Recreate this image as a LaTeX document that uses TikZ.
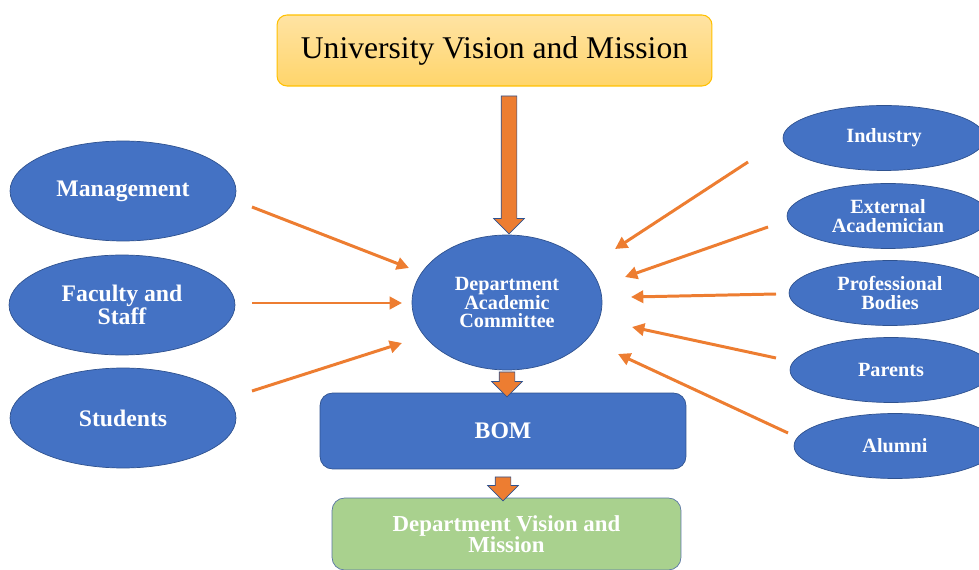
\documentclass[tikz,border=0pt]{standalone}
\usepackage{fontspec}
\setmainfont{Liberation Serif}
\usetikzlibrary{shapes.geometric,shapes.arrows,arrows.meta}

\definecolor{boxblue}{HTML}{4472C4}
\definecolor{edgeblue}{HTML}{2F528F}
\definecolor{linkorange}{HTML}{ED7D31}
\definecolor{goldtop}{HTML}{FFE3A3}
\definecolor{goldbottom}{HTML}{FFD56B}
\definecolor{goldedge}{HTML}{FFC000}
\definecolor{leafgreen}{HTML}{A9D18E}

\tikzset{
  stake/.style={ellipse, fill=boxblue, draw=edgeblue, line width=0.4pt,
    inner sep=0pt, text=white, align=center,
    minimum width=4.52cm, minimum height=2cm,
    font=\bfseries\fontsize{13.5}{12}\selectfont},
  outstake/.style={stake, minimum width=4.04cm, minimum height=1.3cm,
    font=\bfseries\fontsize{11.5}{10.8}\selectfont},
  feed/.style={draw=linkorange, line width=1.7pt,
    -{Triangle[length=7pt,width=7pt]}},
  flowarrow/.style={single arrow, shape border rotate=270, fill=linkorange,
    draw=edgeblue, line width=0.4pt, inner sep=0.15cm,
    single arrow head extend=0.15cm, minimum width=0.6cm}
}

\begin{document}
\begin{tikzpicture}[x=0.02cm, y=-0.02cm]
  \useasboundingbox (0,0) rectangle (979,570);
  \clip (0,0) rectangle (979,570);

  % top and centre
  \node[rounded corners=0.2cm, top color=goldtop, bottom color=goldbottom,
        draw=goldedge, line width=0.6pt, minimum width=8.7cm, minimum height=1.42cm,
        font=\fontsize{18}{20}\selectfont] (uvm) at (494.5,50.5)
        {University Vision and Mission};
  \node[stake, minimum width=3.8cm, minimum height=2.7cm,
        font=\bfseries\fontsize{11.5}{10.8}\selectfont] (dac) at (507,302.5)
        {Department\\Academic\\Committee};
  \node[rounded corners=0.25cm, fill=boxblue, draw=edgeblue, line width=0.4pt,
        minimum width=7.32cm, minimum height=1.52cm, text=white,
        font=\bfseries\fontsize{13.5}{12}\selectfont] (bom) at (503,431) {BOM};
  \node[rounded corners=0.25cm, fill=leafgreen, draw=edgeblue!80, line width=0.4pt,
        minimum width=6.98cm, minimum height=1.44cm, text=white, align=center,
        font=\bfseries\fontsize{13}{12}\selectfont] (dvm) at (506.5,534)
        {Department Vision and\\Mission};

  % block arrows
  \node[flowarrow, minimum height=2.76cm] (down1) at (509,161) {};
  \node[flowarrow, minimum height=0.5cm] (down2) at (507,380.5) {};
  \node[flowarrow, minimum height=0.48cm] (down3) at (503,485) {};

  % left stakeholders
  \node[stake] (mgmt) at (123,191) {Management};
  \node[stake] (fac) at (122,305) {Faculty and\\Staff};
  \node[stake] (stud) at (123,418) {Students};

  % right stakeholders
  \node[outstake] (ind) at (884,138) {Industry};
  \node[outstake] (ext) at (888,216) {External\\Academician};
  \node[outstake] (prof) at (890,293) {Professional\\Bodies};
  \node[outstake] (par) at (891,370) {Parents};
  \node[outstake] (alum) at (895,446) {Alumni};

  % arrow ends
  \coordinate (mgmt1) at (252,207);  \coordinate (mgmt2) at (409,268);
  \coordinate (fac1) at (252,303);   \coordinate (fac2) at (402,303);
  \coordinate (stud1) at (252,391);  \coordinate (stud2) at (402,343);
  \coordinate (ind1) at (748,162);   \coordinate (ind2) at (615,249);
  \coordinate (ext1) at (768,227);   \coordinate (ext2) at (625,277);
  \coordinate (prof1) at (776,294);  \coordinate (prof2) at (631,297);
  \coordinate (par1) at (776,358);   \coordinate (par2) at (632,327);
  \coordinate (alum1) at (788,433);  \coordinate (alum2) at (618,354);

  % feeding arrows
  \foreach \who in {mgmt,fac,stud,ind,ext,prof,par,alum}
    \draw[feed] (\who1) -- (\who2);
\end{tikzpicture}
\end{document}
